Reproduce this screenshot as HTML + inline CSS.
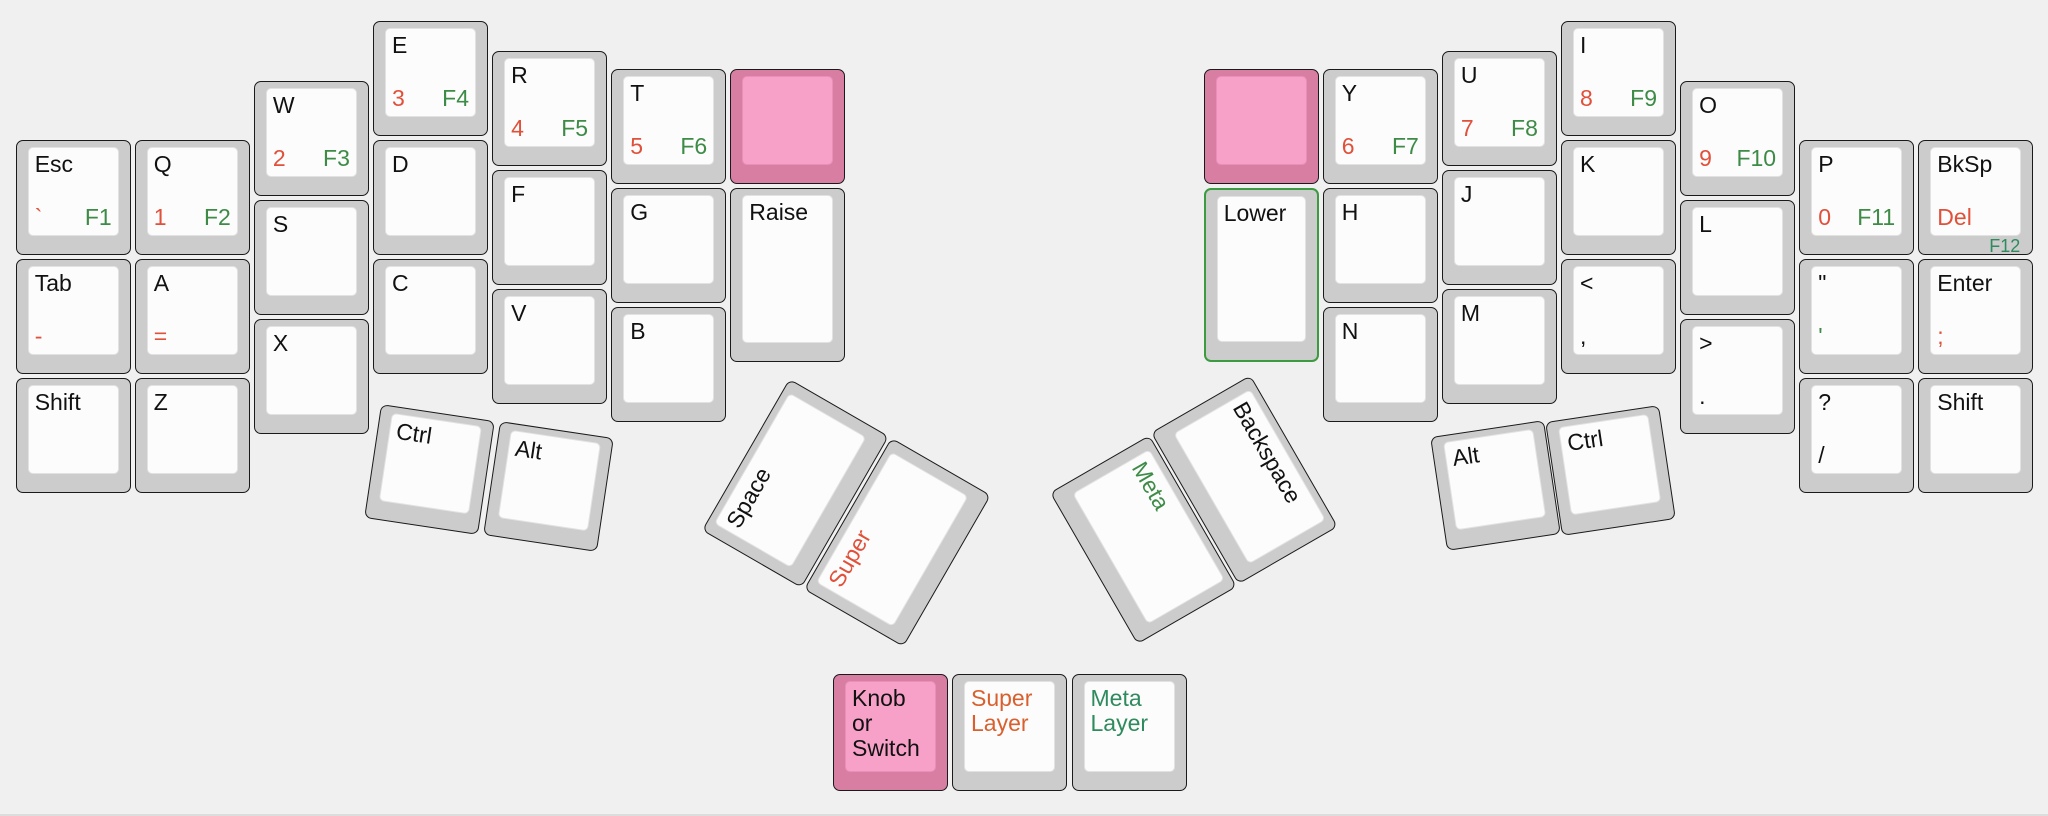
<!DOCTYPE html>
<html><head><meta charset="utf-8"><style>
html,body{margin:0;padding:0}
body{width:2048px;height:816px;background:#f0f0f0;position:relative;overflow:hidden;font-family:"Liberation Sans",Arial,sans-serif;border-bottom:2px solid #ddd;box-sizing:border-box}
.rh{position:absolute;left:-3px;top:0;width:2048px;height:816px}
.k{position:absolute;width:115px;height:115px;background:#cccccc;border:1.5px solid #1a1a1a;border-radius:7px;box-sizing:border-box}
.t{height:174.6px}
.w{width:174.6px}
.k .i{position:absolute;left:11px;right:11px;top:6px;bottom:18px;background:#fcfcfc;border-radius:5px;border:1px solid #e2e2e2;box-sizing:border-box}
.l{position:absolute;font-size:23px;line-height:24px;color:#111;white-space:nowrap}
.tl{left:6px;top:4px}
.bl{left:6px;bottom:6px}
.br{right:6px;bottom:6px}
.r{color:#e0503a}
.g{color:#3d8b46}
.p{background:#d97ea3}
.p .i{background:#f7a1c8;border-color:#e98fb8}
.lo{border:2px solid #3c9a40}
.f12{position:absolute;right:12px;bottom:-1px;font-size:18px;line-height:18px;color:#2f8a5e}
</style></head><body>

<!-- Left hand -->
<div class="k" style="left:15.7px;top:140px"><div class="i"><span class="l tl">Esc</span><span class="l bl r">`</span><span class="l br g">F1</span></div></div>
<div class="k" style="left:15.7px;top:259.1px"><div class="i"><span class="l tl">Tab</span><span class="l bl r">-</span></div></div>
<div class="k" style="left:15.7px;top:378.2px"><div class="i"><span class="l tl">Shift</span></div></div>

<div class="k" style="left:134.8px;top:140px"><div class="i"><span class="l tl">Q</span><span class="l bl r">1</span><span class="l br g">F2</span></div></div>
<div class="k" style="left:134.8px;top:259.1px"><div class="i"><span class="l tl">A</span><span class="l bl r">=</span></div></div>
<div class="k" style="left:134.8px;top:378.2px"><div class="i"><span class="l tl">Z</span></div></div>

<div class="k" style="left:253.9px;top:80.5px"><div class="i"><span class="l tl">W</span><span class="l bl r">2</span><span class="l br g">F3</span></div></div>
<div class="k" style="left:253.9px;top:199.6px"><div class="i"><span class="l tl">S</span></div></div>
<div class="k" style="left:253.9px;top:318.7px"><div class="i"><span class="l tl">X</span></div></div>

<div class="k" style="left:373px;top:20.9px"><div class="i"><span class="l tl">E</span><span class="l bl r">3</span><span class="l br g">F4</span></div></div>
<div class="k" style="left:373px;top:140px"><div class="i"><span class="l tl">D</span></div></div>
<div class="k" style="left:373px;top:259.1px"><div class="i"><span class="l tl">C</span></div></div>

<div class="k" style="left:492.1px;top:50.7px"><div class="i"><span class="l tl">R</span><span class="l bl r">4</span><span class="l br g">F5</span></div></div>
<div class="k" style="left:492.1px;top:169.8px"><div class="i"><span class="l tl">F</span></div></div>
<div class="k" style="left:492.1px;top:288.9px"><div class="i"><span class="l tl">V</span></div></div>

<div class="k" style="left:611.2px;top:68.5px"><div class="i"><span class="l tl">T</span><span class="l bl r">5</span><span class="l br g">F6</span></div></div>
<div class="k" style="left:611.2px;top:187.6px"><div class="i"><span class="l tl">G</span></div></div>
<div class="k" style="left:611.2px;top:306.7px"><div class="i"><span class="l tl">B</span></div></div>

<div class="k p" style="left:730.3px;top:68.5px"><div class="i"></div></div>
<div class="k t" style="left:730.3px;top:187.6px"><div class="i"><span class="l tl">Raise</span></div></div>

<!-- Right hand -->
<div class="rh">
<div class="k p" style="left:1206.7px;top:68.5px"><div class="i"></div></div>
<div class="k t lo" style="left:1206.7px;top:187.6px"><div class="i"><span class="l tl">Lower</span></div></div>

<div class="k" style="left:1325.8px;top:68.5px"><div class="i"><span class="l tl">Y</span><span class="l bl r">6</span><span class="l br g">F7</span></div></div>
<div class="k" style="left:1325.8px;top:187.6px"><div class="i"><span class="l tl">H</span></div></div>
<div class="k" style="left:1325.8px;top:306.7px"><div class="i"><span class="l tl">N</span></div></div>

<div class="k" style="left:1444.9px;top:50.7px"><div class="i"><span class="l tl">U</span><span class="l bl r">7</span><span class="l br g">F8</span></div></div>
<div class="k" style="left:1444.9px;top:169.8px"><div class="i"><span class="l tl">J</span></div></div>
<div class="k" style="left:1444.9px;top:288.9px"><div class="i"><span class="l tl">M</span></div></div>

<div class="k" style="left:1564px;top:20.9px"><div class="i"><span class="l tl">I</span><span class="l bl r">8</span><span class="l br g">F9</span></div></div>
<div class="k" style="left:1564px;top:140px"><div class="i"><span class="l tl">K</span></div></div>
<div class="k" style="left:1564px;top:259.1px"><div class="i"><span class="l tl">&lt;</span><span class="l bl">,</span></div></div>

<div class="k" style="left:1683.1px;top:80.5px"><div class="i"><span class="l tl">O</span><span class="l bl r">9</span><span class="l br g">F10</span></div></div>
<div class="k" style="left:1683.1px;top:199.6px"><div class="i"><span class="l tl">L</span></div></div>
<div class="k" style="left:1683.1px;top:318.7px"><div class="i"><span class="l tl">&gt;</span><span class="l bl">.</span></div></div>

<div class="k" style="left:1802.2px;top:140px"><div class="i"><span class="l tl">P</span><span class="l bl r">0</span><span class="l br g">F11</span></div></div>
<div class="k" style="left:1802.2px;top:259.1px"><div class="i"><span class="l tl">"</span><span class="l bl g">'</span></div></div>
<div class="k" style="left:1802.2px;top:378.2px"><div class="i"><span class="l tl">?</span><span class="l bl">/</span></div></div>

<div class="k" style="left:1921.3px;top:140px"><div class="i"><span class="l tl">BkSp</span><span class="l bl r">Del</span></div><span class="f12">F12</span></div>
<div class="k" style="left:1921.3px;top:259.1px"><div class="i"><span class="l tl">Enter</span><span class="l bl r">;</span></div></div>
<div class="k" style="left:1921.3px;top:378.2px"><div class="i"><span class="l tl">Shift</span></div></div>

<div class="k" style="left:1440.5px;top:427.5px;transform:rotate(-8.5deg)"><div class="i"><span class="l tl">Alt</span></div></div>
<div class="k" style="left:1555.5px;top:412.5px;transform:rotate(-8.5deg)"><div class="i"><span class="l tl">Ctrl</span></div></div>
</div>

<!-- Thumb small keys -->
<div class="k" style="left:371.5px;top:411.5px;transform:rotate(8.5deg)"><div class="i"><span class="l tl">Ctrl</span></div></div>
<div class="k" style="left:490.5px;top:428.5px;transform:rotate(8.5deg)"><div class="i"><span class="l tl">Alt</span></div></div>

<!-- Thumb big keys -->
<div class="k w" style="left:707.7px;top:425.5px;transform:rotate(-60deg)"><div class="i"><span class="l tl">Space</span></div></div>
<div class="k w" style="left:809.7px;top:484.5px;transform:rotate(-60deg)"><div class="i"><span class="l tl r">Super</span></div></div>
<div class="k w" style="left:1055.7px;top:481.5px;transform:rotate(60deg)"><div class="i"><span class="l tl g">Meta</span></div></div>
<div class="k w" style="left:1156.7px;top:421.5px;transform:rotate(60deg)"><div class="i"><span class="l tl">Backspace</span></div></div>

<!-- Bottom row -->
<div class="k p" style="left:833px;top:674px;height:117px"><div class="i"><span class="l tl" style="line-height:25px;white-space:normal">Knob<br>or<br>Switch</span></div></div>
<div class="k" style="left:952px;top:674px;height:117px"><div class="i"><span class="l tl" style="line-height:25px;color:#d9602e">Super<br>Layer</span></div></div>
<div class="k" style="left:1071.5px;top:674px;height:117px"><div class="i"><span class="l tl" style="line-height:25px;color:#2f8a5e">Meta<br>Layer</span></div></div>

</body></html>
